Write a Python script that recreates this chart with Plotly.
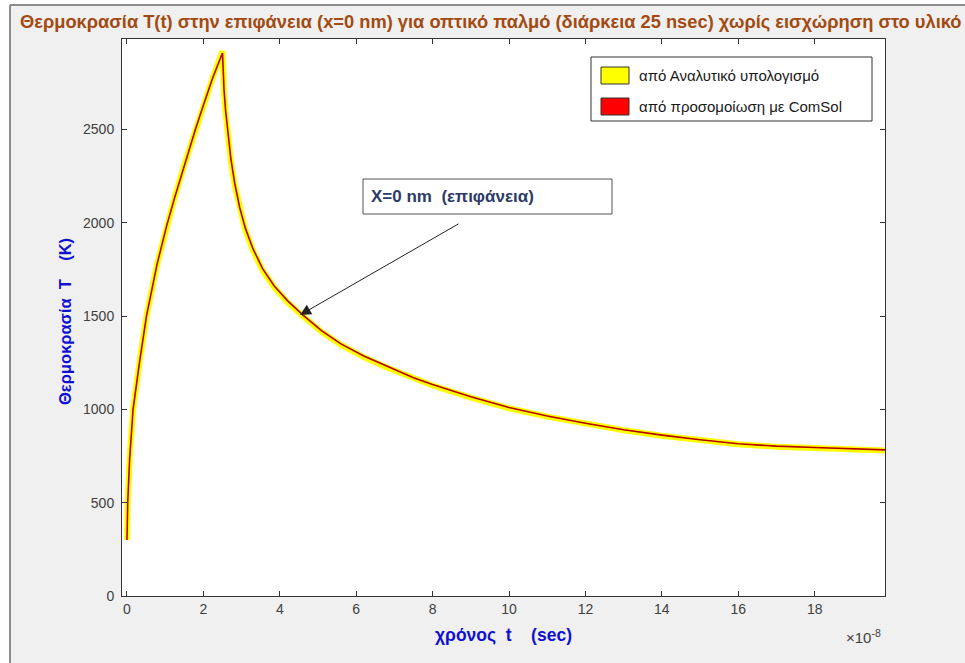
import plotly.graph_objects as go

# time in units of 1e-8 s
t_1e8 = [0, 0.005, 0.02, 0.07, 0.16, 0.32, 0.51, 0.79, 1.04, 1.255, 1.5, 1.79, 2.0, 2.25, 2.5,
         2.505, 2.52, 2.54, 2.58, 2.64, 2.72, 2.82, 2.95, 3.1, 3.3, 3.55, 3.85, 4.2, 4.6, 5.1, 5.6, 6.2,
         6.8, 7.5, 8, 9, 10, 11, 12, 13, 14, 15, 16, 17, 18, 19, 19.84]
T_analytic = [300, 400, 500, 735, 1000, 1240, 1500, 1780, 1985, 2140, 2310, 2500, 2630, 2780, 2920,
              2870, 2790, 2700, 2590, 2460, 2330, 2200, 2070, 1960, 1850, 1745, 1655, 1575, 1500, 1415, 1345, 1280,
              1225, 1165, 1128, 1063, 1006, 961, 922, 888, 859, 834, 813, 800, 792, 786, 780]
T_comsol = [300, 400, 500, 735, 1000, 1240, 1500, 1780, 1985, 2140, 2310, 2500, 2630, 2780, 2910,
            2880, 2805, 2715, 2605, 2475, 2343, 2212, 2082, 1970, 1860, 1754, 1663, 1583, 1507, 1421, 1351, 1286,
            1231, 1170, 1133, 1068, 1010, 965, 926, 891, 862, 837, 816, 803, 796, 789, 783]

title_text = "Θερμοκρασία T(t) στην επιφάνεια (x=0 nm) για οπτικό παλμό (διάρκεια 25 nsec) χωρίς εισχώρηση στο υλικό"
legend_labels = ["από Αναλυτικό υπολογισμό", "από προσομοίωση με ComSol"]
legend_colors = ["#ffff00", "#ff0000"]
xlabel = "χρόνος  t    (sec)"
ylabel = "Θερμοκρασία  T    (K)"
note_text = "X=0 nm  (επιφάνεια)"
x_ticks = [0, 2, 4, 6, 8, 10, 12, 14, 16, 18]
y_ticks = [0, 500, 1000, 1500, 2000, 2500]

W, H = 965, 663
L, R, TOP, B = 122, 885, 39, 596


def px(x):
    return (x - L) / (R - L)


def py(y):
    return (B - y) / (B - TOP)


def keep_spaces(s):
    return s.replace(" ", "\u00a0")


fig = go.Figure()
fig.add_trace(go.Scatter(x=t_1e8, y=T_analytic, mode="lines", line=dict(color="#ffff00", width=6),
                         showlegend=False, hoverinfo="skip"))
fig.add_trace(go.Scatter(x=t_1e8, y=T_comsol, mode="lines", line=dict(color="#b80000", width=1.6),
                         showlegend=False, hoverinfo="skip"))

shapes = []
annotations = []
# figure frame
shapes.append(dict(type="rect", xref="paper", yref="paper", x0=px(-5), x1=px(10), y0=py(H + 5), y1=py(-5),
                   fillcolor="white", line=dict(width=0), layer="above"))
shapes.append(dict(type="rect", xref="paper", yref="paper", x0=px(-5), x1=px(W + 5), y0=py(5), y1=py(-5),
                   fillcolor="white", line=dict(width=0), layer="above"))
shapes.append(dict(type="line", xref="paper", yref="paper", x0=px(10), x1=px(10), y0=py(5), y1=py(H + 5),
                   line=dict(color="#8c8c8c", width=2)))
shapes.append(dict(type="line", xref="paper", yref="paper", x0=px(10), x1=px(W + 5), y0=py(5), y1=py(5),
                   line=dict(color="#8c8c8c", width=2)))

# legend box
shapes.append(dict(type="rect", xref="paper", yref="paper", x0=px(591), x1=px(872), y0=py(121), y1=py(57),
                   fillcolor="white", line=dict(color="#333333", width=1), layer="above"))
leg_rows = [(67, 84), (98, 115)]
for (y0, y1), c, lab in zip(leg_rows, legend_colors, legend_labels):
    shapes.append(dict(type="rect", xref="paper", yref="paper", x0=px(601), x1=px(629), y0=py(y1), y1=py(y0),
                       fillcolor=c, line=dict(color="#333333", width=1), layer="above"))
    annotations.append(dict(text=lab, xref="paper", yref="paper", x=px(637), y=py((y0 + y1) / 2),
                            xanchor="left", yanchor="middle", showarrow=False,
                            font=dict(family="Liberation Sans", size=15, color="#1a1a1a")))

# text box annotation
shapes.append(dict(type="rect", xref="paper", yref="paper", x0=px(363), x1=px(612), y0=py(214), y1=py(179),
                   fillcolor="white", line=dict(color="#555555", width=1), layer="above"))
annotations.append(dict(text="<b>" + keep_spaces(note_text) + "</b>", xref="paper", yref="paper",
                        x=px(369), y=py(196.5), xanchor="left", yanchor="middle", showarrow=False,
                        font=dict(family="Liberation Sans", size=17, color="#2e3b66")))
annotations.append(dict(text="", xref="paper", yref="paper", x=px(300), y=py(315), ax=160, ay=-92,
                        axref="pixel", ayref="pixel", showarrow=True, arrowhead=2, arrowsize=2.2,
                        arrowwidth=1, arrowcolor="#222222"))

# title
annotations.append(dict(text="<b>" + title_text + "</b>", xref="paper", yref="paper", x=px(18), y=py(21),
                        xanchor="left", yanchor="middle", showarrow=False,
                        font=dict(family="Liberation Sans", size=18.3, color="#a34a12")))
# axis labels
annotations.append(dict(text="<b>" + keep_spaces(xlabel) + "</b>", xref="paper", yref="paper",
                        x=px(503), y=py(635), xanchor="center", yanchor="middle", showarrow=False,
                        font=dict(family="Liberation Sans", size=17.5, color="#1010d0")))
annotations.append(dict(text="<b>" + keep_spaces(ylabel) + "</b>", xref="paper", yref="paper",
                        x=px(65), y=py(322), xanchor="center", yanchor="middle", showarrow=False,
                        textangle=-90,
                        font=dict(family="Liberation Sans", size=16.5, color="#1010d0")))
annotations.append(dict(text="×10<sup>-8</sup>", xref="paper", yref="paper", x=px(844), y=py(636),
                        xanchor="left", yanchor="middle", showarrow=False,
                        font=dict(family="Liberation Sans", size=15, color="#404040")))

fig.update_layout(
    width=W, height=H,
    margin=dict(l=L, r=W - R, t=TOP, b=H - B),
    paper_bgcolor="#f0f0f0", plot_bgcolor="white",
    shapes=shapes, annotations=annotations,
    showlegend=False,
    xaxis=dict(range=[-0.13, 19.84], tickvals=x_ticks, ticktext=[str(v) for v in x_ticks],
               ticks="inside", ticklen=5, tickcolor="#333333", showgrid=False, zeroline=False,
               showline=True, linecolor="#333333", linewidth=1, mirror="ticks",
               tickfont=dict(family="Liberation Sans", size=14, color="#404040")),
    yaxis=dict(range=[0, 2985], tickvals=y_ticks, ticktext=[str(v) for v in y_ticks],
               ticks="inside", ticklen=5, tickcolor="#333333", showgrid=False, zeroline=False,
               showline=True, linecolor="#333333", linewidth=1, mirror="ticks", ticklabelstandoff=4,
               tickfont=dict(family="Liberation Sans", size=14, color="#404040")),
    font=dict(family="Liberation Sans"),
)

fig.write_html("out.html")
